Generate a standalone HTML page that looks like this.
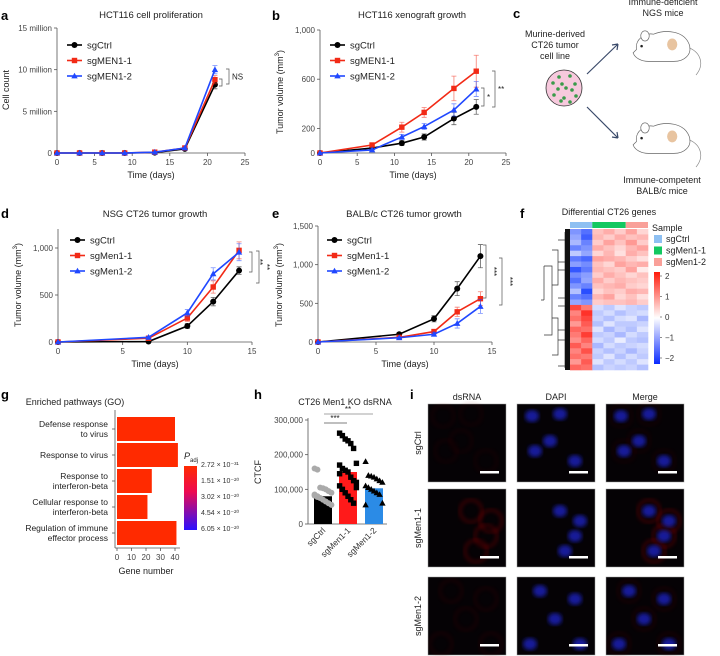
<!DOCTYPE html>
<html><head><meta charset="utf-8">
<style>
html,body{margin:0;padding:0;background:#fff;}
svg{display:block;font-family:"Liberation Sans",Arial,sans-serif;}
</style></head>
<body>
<svg id="fig" width="720" height="656" viewBox="0 0 720 656" xmlns="http://www.w3.org/2000/svg"></svg>
<script>
// ---------- DATA ----------
// panel a
const aDays = [0,3,6,9,13,17,21];
const aCtrl = [0,0,0,0,0.05,0.5,8.2];
const aMen1 = [0,0,0,0,0.1,0.6,8.8];
const aMen2 = [0,0,0,0,0.1,0.6,10.0];
const aErr = [0,0,0,0,0,0.1,0.5];
const aYTicks = [0,5,10,15];
const aYLabels = ['0','5 million','10 million','15 million'];
const aXTicks = [0,5,10,15,20,25];
// panel b
const bDays = [0,7,11,14,18,21];
const bCtrl = [0,40,80,130,280,375];
const bMen1 = [0,65,210,330,525,665];
const bMen2 = [0,25,130,215,350,520];
const bErr = [0,10,20,25,50,60];
const bErr1 = [0,10,40,40,100,130];
const bYTicks = [0,200,600,1000];
const bYLabels = ['0','200','600','1,000'];
const bXTicks = [0,5,10,15,20,25];
// panel d
const dDays = [0,7,10,12,14];
const dCtrl = [0,5,170,430,760];
const dMen1 = [0,40,255,585,975];
const dMen2 = [0,50,310,725,955];
const dErr = [0,5,25,45,40];
const dErr1 = [0,8,35,65,90];
const dYTicks = [0,500,1000];
const dYLabels = ['0','500','1,000'];
const dXTicks = [0,5,10,15];
// panel e
const eDays = [0,7,10,12,14];
const eCtrl = [0,100,300,690,1110];
const eMen1 = [0,60,135,390,560];
const eMen2 = [0,55,100,240,460];
const eErr = [0,15,40,90,150];
const eErr1 = [0,10,25,60,90];
const eYTicks = [0,500,1000,1500];
const eYLabels = ['0','500','1,000','1,500'];
const eXTicks = [0,5,10,15];
// panel g
const gTerms = [['Defense response','to virus'],['Response to virus'],['Response to','interferon-beta'],['Cellular response to','interferon-beta'],['Regulation of immune','effector process']];
const gCounts = [40,42,24,21,41];
const gXTicks = [0,10,20,30,40];
const gLegend = ['2.72 × 10⁻³¹','1.51 × 10⁻²⁰','3.02 × 10⁻²⁰','4.54 × 10⁻²⁰','6.05 × 10⁻²⁰'];
// panel h
const hGroups = ['sgCtrl','sgMen1-1','sgMen1-2'];
const hMeans = [80000,150000,103000];
const hCtrlPts = [160000,157000,105000,103000,100000,95000,90000,85000,80000,75000,70000,65000,60000,55000,82000,78000];
const hMen1Pts = [262000,255000,245000,240000,232000,218000,175000,170000,160000,155000,150000,135000,125000,120000,110000,100000,90000,80000,70000,60000,105000,145000];
const hMen2Pts = [180000,140000,138000,135000,130000,125000,120000,110000,105000,100000,95000,90000,85000,60000,55000];
const hYTicks = [0,100000,200000,300000];
const hYLabels = ['0','100,000','200,000','300,000'];
// panel f heatmap (rows x 7 cols: 2 sgCtrl, 3 sgMen1-1, 2 sgMen1-2)
const fValues = [
[-1.2,-1.6,0.6,0.8,0.5,0.9,0.4],[-1.0,-1.8,0.7,0.5,0.8,0.6,0.7],[-0.8,-1.4,0.5,0.9,0.6,1.0,0.5],
[-1.4,-1.2,0.8,0.6,0.4,0.7,0.9],[-0.6,-1.0,0.4,0.7,0.3,0.8,0.6],[-1.5,-1.7,0.9,0.8,0.7,0.5,0.3],
[-1.1,-1.3,0.6,0.4,0.9,0.7,0.8],[-1.9,-1.5,0.7,0.6,0.5,0.9,0.2],[-1.3,-1.1,0.5,0.8,0.6,0.4,0.6],
[-1.6,-1.0,0.8,0.5,0.7,0.6,0.5],[-1.2,-1.4,0.6,0.7,0.8,0.5,0.4],[-0.7,-2.0,0.4,0.6,0.5,0.8,0.7],
[-1.4,-1.6,0.7,0.9,0.4,0.6,0.3],[-1.0,-1.2,0.5,0.6,0.6,0.7,0.5],
[1.8,1.3,-0.4,-0.6,-0.3,-0.5,-0.6],[1.2,2.0,-0.6,-0.4,-0.7,-0.5,-0.4],[1.4,1.8,-0.5,-0.7,-0.4,-0.3,-0.8],
[1.0,1.6,-0.7,-0.3,-0.6,-0.6,-0.5],[1.5,1.4,-0.3,-0.8,-0.5,-0.7,-0.3],[1.3,1.9,-0.6,-0.5,-0.8,-0.4,-0.6],
[1.1,1.5,-0.4,-0.6,-0.2,-0.6,-0.7],[1.6,1.2,-0.8,-0.4,-0.6,-0.5,-0.4],[1.2,1.7,-0.5,-0.7,-0.5,-0.8,-0.5],
[1.4,1.3,-0.6,-0.3,-0.7,-0.4,-0.6],[1.0,1.6,-0.3,-0.6,-0.4,-0.6,-0.3],[1.5,1.4,-0.7,-0.5,-0.6,-0.5,-0.7]
];
const fSamples = ['sgCtrl','sgMen1-1','sgMen1-2'];
const fSampleCols = [2,3,2];
const fScale = [2,1,0,-1,-2];

// ---------- HELPERS ----------
const NS='http://www.w3.org/2000/svg';
const svg=document.getElementById('fig');
function mk(tag,attrs,parent){const e=document.createElementNS(NS,tag);for(const k in attrs)e.setAttribute(k,attrs[k]);(parent||svg).appendChild(e);return e;}
function txt(x,y,s,size,opts,parent){const e=mk('text',Object.assign({x:x,y:y,'font-size':size,fill:'#222'},opts||{}),parent);e.textContent=s;return e;}
function lin(d0,d1,r0,r1){return v=>r0+(v-d0)*(r1-r0)/(d1-d0);}
const RED='#f22a16',BLUE='#2048ff',BLK='#000';

function panelLabel(x,y,s){const e=txt(x,y,s,13,{'font-weight':'bold',fill:'#000'});

}

function marker(g,type,cx,cy,col){let e;
if(type==='c')e=mk('circle',{cx:cx,cy:cy,r:3,fill:col},g);
else if(type==='s')e=mk('rect',{x:cx-2.7,y:cy-2.7,width:5.4,height:5.4,fill:col},g);
else e=mk('path',{d:`M${cx},${cy-3.3}L${cx+3.2},${cy+2.4}L${cx-3.2},${cy+2.4}Z`,fill:col},g);

}

function lineChart(c){
const g=mk('g',{});


const X=lin(c.xd[0],c.xd[1],c.xr[0],c.xr[1]);
const Y=lin(0,c.ymaxVal,c.y0,c.y1);
const ya=mk('line',{x1:c.xr[0],y1:c.yTop,x2:c.xr[0],y2:c.y0,stroke:'#555','stroke-width':0.8},g);


const xa=mk('line',{x1:c.xr[0],y1:c.y0,x2:c.xr[1],y2:c.y0,stroke:'#555','stroke-width':0.8},g);


c.yTicks.forEach((t,i)=>{const yy=Y(t);mk('line',{x1:c.xr[0]-3,y1:yy,x2:c.xr[0],y2:yy,stroke:'#555','stroke-width':0.8},g);
const l=txt(c.xr[0]-5,yy+3,c.yLabels[i],8,{'text-anchor':'end',fill:'#444'},g);

});
c.xTicks.forEach(t=>{const xx=X(t);mk('line',{x1:xx,y1:c.y0,x2:xx,y2:c.y0+3,stroke:'#555','stroke-width':0.8},g);
const l=txt(xx,c.y0+12,String(t),8,{'text-anchor':'middle',fill:'#444'},g);

});
const xt=txt((c.xr[0]+c.xr[1])/2,c.y0+25,'Time (days)',9,{'text-anchor':'middle'},g);


const yt=txt(0,0,'',9,{'text-anchor':'middle',transform:`translate(${c.ytX},${c.ytY}) rotate(-90)`},g);
yt.innerHTML=c.yTitle;


const tt=txt(c.titleX,c.titleY,c.title,9.5,{'text-anchor':'middle'},g);


const cols=[BLK,RED,BLUE],types=['c','s','t'];
c.series.forEach((s,si)=>{
 const sg=mk('g',{},g);
 
 
 const err=c.errs[si];
 c.days.forEach((d,i)=>{if(err[i]>0){const xx=X(d);
  mk('path',{d:`M${xx},${Y(s[i]-err[i])}V${Y(s[i]+err[i])}M${xx-2.5},${Y(s[i]-err[i])}h5M${xx-2.5},${Y(s[i]+err[i])}h5`,stroke:cols[si],'stroke-width':0.8,fill:'none',opacity:0.6},sg);}});
 const pts=c.days.map((d,i)=>X(d)+','+Y(s[i])).join(' ');
 const pl=mk('polyline',{points:pts,fill:'none',stroke:cols[si],'stroke-width':1.6},sg);
 
 
 c.days.forEach((d,i)=>marker(sg,types[si],X(d),Y(s[i]),cols[si]));
 const ly=c.legY+si*15.5;
 mk('line',{x1:c.legX,y1:ly,x2:c.legX+15,y2:ly,stroke:cols[si],'stroke-width':1.6},g);
 marker(g,types[si],c.legX+7.5,ly,cols[si]);
 const lt=txt(c.legX+20,ly+3.5,c.names[si],9.5,{},g);
 
 
});
return {g:g,X:X,Y:Y};
}
function bracket(g,x,y1,y2,label,rot){
 mk('path',{d:`M${x-3},${y1}H${x}V${y2}H${x-3}`,fill:'none',stroke:'#555','stroke-width':0.7},g);
 if(label){const t=rot?txt(0,0,label,8,{'text-anchor':'middle',transform:`translate(${x+5},${(y1+y2)/2}) rotate(90)`},g):txt(x+3,(y1+y2)/2+3,label,8,{},g);
 
 }
}

// ---------- PANEL A ----------
panelLabel(1,20,'a');
const A=lineChart({name:'panel-a-chart',xd:[0,25],xr:[57,245],ymaxVal:15,y0:153,y1:28,yTop:28,yTicks:aYTicks,yLabels:aYLabels,xTicks:aXTicks,
 days:aDays,series:[aCtrl,aMen1,aMen2],errs:[aErr,aErr,aErr],names:['sgCtrl','sgMEN1-1','sgMEN1-2'],legX:67,legY:45,
 title:'HCT116 cell proliferation',titleX:151,titleY:18,yTitle:'Cell count',ytX:9,ytY:90});
bracket(A.g,222,79,86,'');
bracket(A.g,229,69,84,'NS');
// ---------- PANEL B ----------
panelLabel(272,20,'b');
const B=lineChart({name:'panel-b-chart',xd:[0,25],xr:[320,506],ymaxVal:1000,y0:153,y1:30,yTop:30,yTicks:bYTicks,yLabels:bYLabels,xTicks:bXTicks,
 days:bDays,series:[bCtrl,bMen1,bMen2],errs:[bErr,bErr1,bErr],names:['sgCtrl','sgMEN1-1','sgMEN1-2'],legX:330,legY:45,
 title:'HCT116 xenograft growth',titleX:412,titleY:18,yTitle:'Tumor volume (mm<tspan dy="-4" font-size="6">3</tspan><tspan dy="4">)</tspan>',ytX:283,ytY:92});
bracket(B.g,484,88,106,'*');
bracket(B.g,495,71,107,'**');

// ---------- PANEL C ----------
panelLabel(513,18,'c');
const cg=mk('g',{});


[['Murine-derived',37],['CT26 tumor',48],['cell line',59]].forEach(a=>{const t=txt(555,a[1],a[0],9,{'text-anchor':'middle'},cg);});
const dish=mk('circle',{cx:564,cy:88,r:18,fill:'#f7c9dd',stroke:'#333','stroke-width':0.8},cg);


[[559,77],[570,76],[553,83],[562,84],[575,84],[566,88],[558,89],[572,90],[554,95],[564,98],[576,96],[561,101],[570,102]].forEach(p=>mk('circle',{cx:p[0],cy:p[1],r:1.8,fill:'#3a9a4a'},cg));
const ar1=mk('path',{d:'M587,74L618,44M618,44l-6,1M618,44l-1,6',stroke:'#3a4a6a','stroke-width':1.2,fill:'none'},cg);


const ar2=mk('path',{d:'M587,107L618,138M618,138l-6,-1M618,138l-1,-6',stroke:'#3a4a6a','stroke-width':1.2,fill:'none'},cg);


function mouse(ox,oy,nm){const m=mk('g',{transform:`translate(${ox},${oy}) scale(0.85)`},cg);


mk('path',{d:'M10,30 C8,18 20,10 30,12 C45,6 66,8 72,24 C76,36 66,44 54,44 L24,44 C16,44 8,40 6,34 Z',fill:'#fff',stroke:'#666','stroke-width':0.8},m);
mk('path',{d:'M72,28 C86,34 90,48 80,60',fill:'none',stroke:'#888','stroke-width':0.8},m);
mk('ellipse',{cx:20,cy:14,rx:5,ry:6,fill:'#fff',stroke:'#666','stroke-width':0.8},m);
mk('circle',{cx:16,cy:26,r:1.5,fill:'#222'},m);
mk('ellipse',{cx:52,cy:24,rx:6,ry:7,fill:'#e8c4a0'},m);}
mouse(628,24,'ngs-mouse');
mouse(628,116,'balbc-mouse');
[['Immune-deficient',5],['NGS mice',16]].forEach(a=>{const t=txt(663,a[1],a[0],9,{'text-anchor':'middle'},cg);});
[['Immune-competent',183],['BALB/c mice',194]].forEach(a=>{const t=txt(662,a[1],a[0],9,{'text-anchor':'middle'},cg);});

// ---------- PANEL D ----------
panelLabel(1,218,'d');
const D=lineChart({name:'panel-d-chart',xd:[0,15],xr:[58,252],ymaxVal:1000,y0:342,y1:248,yTop:229,yTicks:dYTicks,yLabels:dYLabels,xTicks:dXTicks,
 days:dDays,series:[dCtrl,dMen1,dMen2],errs:[dErr,dErr1,dErr1],names:['sgCtrl','sgMen1-1','sgMen1-2'],legX:70,legY:240,
 title:'NSG CT26 tumor growth',titleX:155,titleY:217,yTitle:'Tumor volume (mm<tspan dy="-4" font-size="6">3</tspan><tspan dy="4">)</tspan>',ytX:21,ytY:285});
bracket(D.g,252,252,272,'**',true);
bracket(D.g,259,251,283,'**',true);
// ---------- PANEL E ----------
panelLabel(272,218,'e');
const E=lineChart({name:'panel-e-chart',xd:[0,15],xr:[318,492],ymaxVal:1500,y0:342,y1:226,yTop:226,yTicks:eYTicks,yLabels:eYLabels,xTicks:eXTicks,
 days:eDays,series:[eCtrl,eMen1,eMen2],errs:[eErr,eErr1,eErr1],names:['sgCtrl','sgMen1-1','sgMen1-2'],legX:327,legY:240,
 title:'BALB/c CT26 tumor growth',titleX:404,titleY:217,yTitle:'Tumor volume (mm<tspan dy="-4" font-size="6">3</tspan><tspan dy="4">)</tspan>',ytX:282,ytY:285});
bracket(E.g,486,245,298,'***',true);
bracket(E.g,502,258,305,'***',true);

// ---------- PANEL F ----------
panelLabel(520,218,'f');
const fg=mk('g',{});


const ft=txt(609,215,'Differential CT26 genes',9,{'text-anchor':'middle'},fg);


const hmX=570,hmW=78,hmY=229,hmH=141;
const cw=hmW/7,rh=hmH/fValues.length;
function heatColor(v){const t=Math.max(-1,Math.min(1,v/2.2));
if(t>=0){const r=255,gb=Math.round(255-(255-30)*t);return `rgb(${r},${gb},${Math.round(255-(255-20)*t)})`;}
const a=-t;return `rgb(${Math.round(255-(255-20)*a)},${Math.round(255-(255-60)*a)},255)`;}
fValues.forEach((row,ri)=>row.forEach((v,ci)=>{const c=mk('rect',{x:hmX+ci*cw,y:hmY+ri*rh,width:cw+0.3,height:rh+0.3,fill:heatColor(v)},fg);

}));
const sampCols=['#8ec0f2','#12c860','#f9a099'];
let cx0=hmX;
fSampleCols.forEach((n,i)=>{const r=mk('rect',{x:cx0,y:222,width:n*cw,height:6,fill:sampCols[i]},fg);

cx0+=n*cw;});
const dd=mk('path',{d:'M565,232V368 M544,266H552V335H544 M544,266V300 M552,250H558V285H552 M552,318H558V355H552 M558,240H565V262H558 M558,270H565V298H558 M558,306H565V330H558 M558,340H565V366H558 M541,300H544',fill:'none',stroke:'#333','stroke-width':0.7},fg);


mk('rect',{x:565,y:229,width:5,height:141,fill:'#111'},fg);
const sl=txt(652,231,'Sample',9,{},fg);


fSamples.forEach((s,i)=>{mk('rect',{x:654,y:235+i*11.5,width:8,height:8,fill:sampCols[i]},fg);
const t=txt(666,242+i*11.5,s,9,{},fg);

});
const grad=mk('linearGradient',{id:'hg',x1:0,y1:0,x2:0,y2:1},mk('defs',{},fg));
mk('stop',{offset:'0','stop-color':'#ff1a0a'},grad);mk('stop',{offset:'0.5','stop-color':'#ffffff'},grad);mk('stop',{offset:'1','stop-color':'#0a2aff'},grad);
const cb=mk('rect',{x:654,y:272,width:6,height:92,fill:'url(#hg)'},fg);


fScale.forEach((v,i)=>{const yy=276+i*20.5;mk('line',{x1:660,y1:yy,x2:662,y2:yy,stroke:'#444','stroke-width':0.6},fg);
const t=txt(665,yy+3,v<0?'−'+(-v):String(v),8,{fill:'#333'},fg);

});

// ---------- PANEL G ----------
panelLabel(1,399,'g');
const gg=mk('g',{});


const gt=txt(75,405,'Enriched pathways (GO)',9,{'text-anchor':'middle'},gg);


const GX=lin(0,40,117,175);
const gTop=416,gStep=26;
mk('line',{x1:115,y1:410,x2:115,y2:548,stroke:'#555','stroke-width':0.8},gg);
mk('line',{x1:115,y1:548,x2:180,y2:548,stroke:'#555','stroke-width':0.8},gg);
gTerms.forEach((lines,i)=>{const yc=gTop+i*gStep+gStep/2;
const b=mk('rect',{x:GX(0),y:gTop+i*gStep+1,width:GX(gCounts[i])-GX(0),height:gStep-2,fill:'#ff2a00'},gg);


mk('line',{x1:112,y1:yc,x2:115,y2:yc,stroke:'#555','stroke-width':0.8},gg);
lines.forEach((ln,j)=>{const t=txt(108,yc+3+(j-(lines.length-1)/2)*10,ln,8.5,{'text-anchor':'end'},gg);

});});
gXTicks.forEach(t=>{const xx=GX(t);mk('line',{x1:xx,y1:548,x2:xx,y2:551,stroke:'#555','stroke-width':0.8},gg);
const l=txt(xx,560,String(t),8,{'text-anchor':'middle',fill:'#444'},gg);

});
const gxt=txt(146,574,'Gene number',9,{'text-anchor':'middle'},gg);


const pl=txt(184,459,'',9,{},gg);
pl.innerHTML='<tspan font-style="italic">P</tspan><tspan dy="3" font-size="6">adj</tspan>';


const g2=mk('linearGradient',{id:'pg',x1:0,y1:0,x2:0,y2:1},mk('defs',{},gg));
mk('stop',{offset:'0','stop-color':'#ff2a00'},g2);mk('stop',{offset:'0.4','stop-color':'#ee0a50'},g2);mk('stop',{offset:'1','stop-color':'#2a10ff'},g2);
const pb=mk('rect',{x:184,y:466,width:13,height:64,fill:'url(#pg)'},gg);


gLegend.forEach((s,i)=>{const t=txt(201,467+i*16,s,7,{fill:'#333'},gg);

});

// ---------- PANEL H ----------
panelLabel(254,399,'h');
const hg=mk('g',{});


const ht=txt(345,405,'CT26 Men1 KO dsRNA',9,{'text-anchor':'middle'},hg);


const HY=lin(0,300000,524,420);
mk('line',{x1:308,y1:418,x2:308,y2:524,stroke:'#555','stroke-width':0.8},hg);
mk('line',{x1:308,y1:524,x2:387,y2:524,stroke:'#555','stroke-width':0.8},hg);
hYTicks.forEach((t,i)=>{const yy=HY(t);mk('line',{x1:305,y1:yy,x2:308,y2:yy,stroke:'#555','stroke-width':0.8},hg);
const l=txt(303,yy+3,hYLabels[i],8,{'text-anchor':'end',fill:'#444'},hg);

});
const hyt=txt(0,0,'CTCF',9,{'text-anchor':'middle',transform:'translate(261,472) rotate(-90)'},hg);


const hBarCols=['#000','#ff1a1a','#2b8be6'];
const hCenters=[323,348,374];
const hPts=[hCtrlPts,hMen1Pts,hMen2Pts];
const hPtCols=['#aaa','#000','#000'];
hGroups.forEach((gname,i)=>{const b=mk('rect',{x:hCenters[i]-9,y:HY(hMeans[i]),width:18,height:HY(0)-HY(hMeans[i]),fill:hBarCols[i]},hg);


hPts[i].forEach((v,j)=>{const off=((j%7)-3)*2.8;marker(hg,i===0?'c':(i===1?'s':'t'),hCenters[i]+off,HY(v),hPtCols[i]);});
const l=txt(0,0,gname,8.5,{'text-anchor':'end',fill:'#333',transform:`translate(${hCenters[i]+3},${531}) rotate(-45)`},hg);

});
mk('line',{x1:324,y1:423,x2:347,y2:423,stroke:'#555','stroke-width':0.7},hg);
mk('line',{x1:324,y1:414,x2:373,y2:414,stroke:'#888','stroke-width':0.7},hg);
const s1=txt(335,421,'***',8,{'text-anchor':'middle'},hg);


const s2=txt(348,412,'**',8,{'text-anchor':'middle'},hg);



// ---------- PANEL I ----------
panelLabel(410,399,'i');
const ig=mk('g',{});


const iCols=[428,517,606],iRows=[404,489,577],iW=78,iH=78;
['dsRNA','DAPI','Merge'].forEach((s,i)=>{const t=txt(iCols[i]+iW/2,400,s,9,{'text-anchor':'middle'},ig);

});
['sgCtrl','sgMen1-1','sgMen1-2'].forEach((s,r)=>{const t=txt(0,0,s,9,{'text-anchor':'middle',transform:`translate(${421},${iRows[r]+iH/2}) rotate(-90)`},ig);

});
const filt=mk('filter',{id:'blur'},mk('defs',{},ig));mk('feGaussianBlur',{stdDeviation:2},filt);
const nuclei=[[[12,10],[40,8],[30,35],[55,55],[15,45]],[[40,20],[60,30],[55,45],[45,60]],[[20,12],[55,20],[35,40],[10,65],[60,65]]];
const redStrength=[0.15,0.6,0.2];
iRows.forEach((ry,r)=>iCols.forEach((cx,c)=>{const p=mk('g',{},ig);


mk('rect',{x:cx,y:ry,width:iW,height:iH,fill:'#050205',stroke:'#999','stroke-width':0.5},p);
if(c!==1)nuclei[r].forEach(n=>mk('circle',{cx:cx+n[0]+3,cy:ry+n[1]+2,r:11,fill:'none',stroke:'#8a1010','stroke-width':2,opacity:redStrength[r],filter:'url(#blur)'},p));
if(c!==0)nuclei[r].forEach(n=>mk('ellipse',{cx:cx+n[0]+3,cy:ry+n[1]+2,rx:7,ry:6,fill:'#1a24c0',opacity:0.8,filter:'url(#blur)'},p));
mk('rect',{x:cx+iW-26,y:ry+iH-11,width:19,height:2.5,fill:'#fff'},p);}));
</script>
</body></html>
